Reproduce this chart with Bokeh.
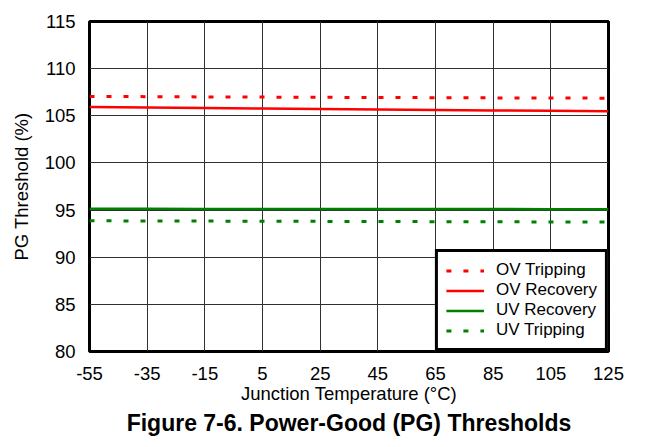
from bokeh.plotting import figure
from bokeh.models import Range1d, FixedTicker, Legend, LegendItem, Title, ColumnDataSource
from bokeh.embed import file_html
from bokeh.resources import INLINE

temps = [-55, -35, -15, 5, 25, 45, 65, 85, 105, 125]
ov_tripping = [107.05, 107.03, 107.0, 106.98, 106.96, 106.94, 106.92, 106.9, 106.88, 106.87]
ov_recovery = [105.92, 105.87, 105.82, 105.77, 105.72, 105.67, 105.62, 105.57, 105.53, 105.49]
uv_recovery = [95.13, 95.13, 95.12, 95.12, 95.12, 95.11, 95.11, 95.11, 95.1, 95.1]
uv_tripping = [93.86, 93.85, 93.83, 93.82, 93.8, 93.79, 93.77, 93.76, 93.74, 93.73]
x_ticks = [-55, -35, -15, 5, 25, 45, 65, 85, 105, 125]
y_ticks = [80, 85, 90, 95, 100, 105, 110, 115]

FONT = "Liberation Sans"

src = ColumnDataSource(dict(t=temps, ovt=ov_tripping, ovr=ov_recovery,
                            uvr=uv_recovery, uvt=uv_tripping))

p = figure(frame_width=519, frame_height=330,
           min_border_left=89, min_border_right=38, min_border_top=21, min_border_bottom=78,
           x_range=Range1d(-55, 125), y_range=Range1d(80, 115),
           output_backend="svg", toolbar_location=None)

p.outline_line_color = "black"
p.outline_line_width = 3
p.outline_line_alpha = 1

for ax in (p.xaxis[0], p.yaxis[0]):
    ax.axis_line_color = None
    ax.major_tick_line_color = None
    ax.minor_tick_line_color = None
    ax.major_label_text_font = FONT
    ax.major_label_text_font_size = "18.5px"
    ax.major_label_text_color = "black"
    ax.axis_label_text_font = FONT
    ax.axis_label_text_font_size = "18.5px"
    ax.axis_label_text_font_style = "normal"
    ax.axis_label_text_color = "black"

p.xaxis.ticker = FixedTicker(ticks=x_ticks)
p.yaxis.ticker = FixedTicker(ticks=y_ticks)
p.xaxis.major_label_overrides = {t: str(t) for t in x_ticks}
p.yaxis.major_label_overrides = {t: str(t) for t in y_ticks}
p.xaxis.axis_label = "Junction Temperature (°C)"
p.yaxis.axis_label = "PG Threshold (%)"
p.xaxis.major_label_standoff = 9
p.yaxis.major_label_standoff = 8
p.xaxis.axis_label_standoff = 0
p.yaxis.axis_label_standoff = 10

p.grid.grid_line_color = "#303030"
p.grid.grid_line_width = 1
p.grid.grid_line_alpha = 1
p.xgrid.ticker = FixedTicker(ticks=x_ticks)
p.ygrid.ticker = FixedTicker(ticks=y_ticks)

r1 = p.line("t", "ovt", source=src, line_color="#FF0000", line_width=3, line_dash="5 12")
r2 = p.line("t", "ovr", source=src, line_color="#FF0000", line_width=2.5)
r3 = p.line("t", "uvr", source=src, line_color="#008000", line_width=2.5)
r4 = p.line("t", "uvt", source=src, line_color="#008000", line_width=3, line_dash="5 12")

legend = Legend(items=[
    LegendItem(label="OV Tripping", renderers=[r1]),
    LegendItem(label="OV Recovery", renderers=[r2]),
    LegendItem(label="UV Recovery", renderers=[r3]),
    LegendItem(label="UV Tripping", renderers=[r4]),
], location="bottom_right")
legend.label_text_font = FONT
legend.label_text_font_size = "17px"
legend.label_text_color = "black"
legend.label_height = 19
legend.glyph_height = 19
legend.glyph_width = 38
legend.label_standoff = 12
legend.spacing = 0
legend.padding = 8
legend.margin = 0
legend.border_line_color = "black"
legend.border_line_width = 3
legend.border_line_alpha = 1
legend.background_fill_alpha = 1
p.add_layout(legend, "center")

title = Title(text="Figure 7-6. Power-Good (PG) Thresholds", align="center",
              text_font=FONT, text_font_size="23px", text_font_style="bold",
              text_color="black", standoff=3)
p.add_layout(title, "below")

open("out.html", "w").write(file_html(p, INLINE))
